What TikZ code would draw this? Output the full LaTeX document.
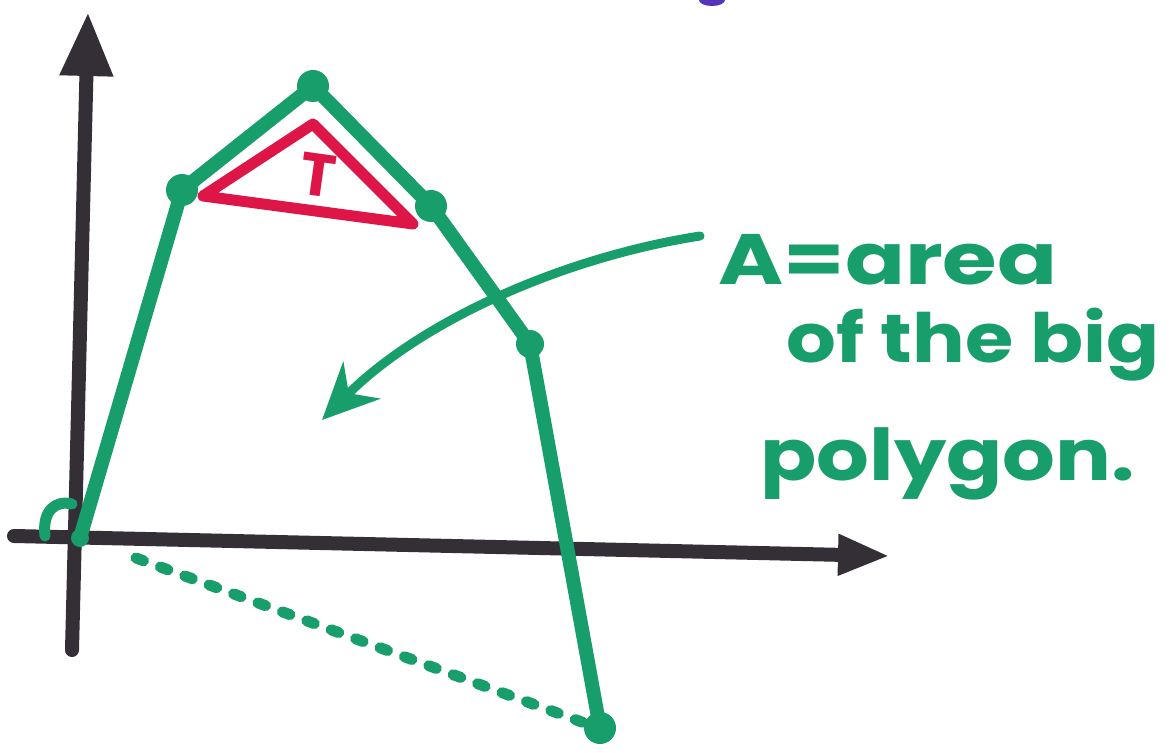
\documentclass[tikz,border=0pt]{standalone}
\usepackage{fontspec}
\setmainfont{Poppins}
\usetikzlibrary{arrows.meta}
\definecolor{mgreen}{RGB}{24,158,106}
\definecolor{mred}{RGB}{222,22,72}
\definecolor{mblack}{RGB}{52,46,54}
\definecolor{mpurple}{RGB}{84,52,184}
\tikzset{
  axisline/.style={draw=mblack, line width=7pt, line cap=round},
  polyline/.style={draw=mgreen, line width=7pt, line cap=round, line join=round},
  vdot/.style={circle, fill=mgreen, minimum size=16pt, inner sep=0pt},
  handtext/.style={text=mgreen, font=\fontsize{34}{40}\selectfont\bfseries, inner sep=0pt},
  pointer/.style={draw=mgreen, line width=4.5pt, line cap=round, -{Stealth[length=28pt, width=26pt]}},
  dotted line/.style={draw=mgreen, line width=5.5pt, line cap=round, dash pattern=on 4pt off 9pt}
}
\begin{document}
\begin{tikzpicture}[x=0.5pt, y=-0.5pt]
\clip (0,0) rectangle (1171,753);
\fill[white] (0,0) rectangle (1171,753);
% purple blob at top (cut off)
\fill[mpurple] (712,0) ellipse [x radius=13, y radius=6];
% axes
\coordinate (ybot) at (72,650);
\coordinate (ytop) at (88,12);
\coordinate (xleft) at (14,536);
\coordinate (xright) at (890,556);
\draw[axisline, -{Triangle[width=25pt, length=32pt]}] (ybot) -- (ytop);
\draw[axisline, -{Triangle[width=19pt, length=26pt]}] (xleft) -- (xright);
% polygon vertices
\node[vdot, minimum size=9pt] (O) at (80,538) {};
\node[vdot] (P1) at (182,190) {};
\node[vdot] (P2) at (313,86) {};
\node[vdot] (P3) at (431,206) {};
\node[vdot, minimum size=14pt] (P4) at (530,344) {};
\node[vdot] (P5) at (600,728) {};
% dashed closing edge
\coordinate (d1) at (136,558);
\coordinate (d2) at (590,725);
\draw[dotted line] (d1) -- (d2);
% hook at origin
\coordinate (h1) at (45,536);
\coordinate (h2) at (72,504);
\draw[draw=mgreen, line width=5.5pt, line cap=round] (h1) .. controls (42,510) and (56,500) .. (h2);
% polygon
\draw[polyline] (O.center) -- (P1.center) -- (P2.center) -- (P3.center) -- (P4.center) -- (P5.center);
% red triangle
\coordinate (R1) at (203,196);
\coordinate (R2) at (313,124);
\coordinate (R3) at (413,224);
\draw[draw=mred, line width=5.5pt, line join=round] (R1) -- (R2) -- (R3) -- cycle;
\node[text=mred, font=\fontsize{30}{34}\selectfont\bfseries, rotate=-8, inner sep=0pt] (T) at (318,175) {T};
% text
\node[handtext, anchor=base west] (L1) at (718,285) {\scalebox{1.3}[1.05]{A=area}};
\node[handtext, anchor=base west] (L2) at (786,362) {\scalebox{1.15}[1.0]{of the big}};
\node[handtext, anchor=base west] (L3) at (760,480) {\scalebox{1.22}[1.05]{polygon.}};
% pointer arrow
\coordinate (a1) at (700,236);
\coordinate (a2) at (322,420);
\draw[pointer] (a1) .. controls (560,258) and (420,322) .. (a2);
\end{tikzpicture}
\end{document}
